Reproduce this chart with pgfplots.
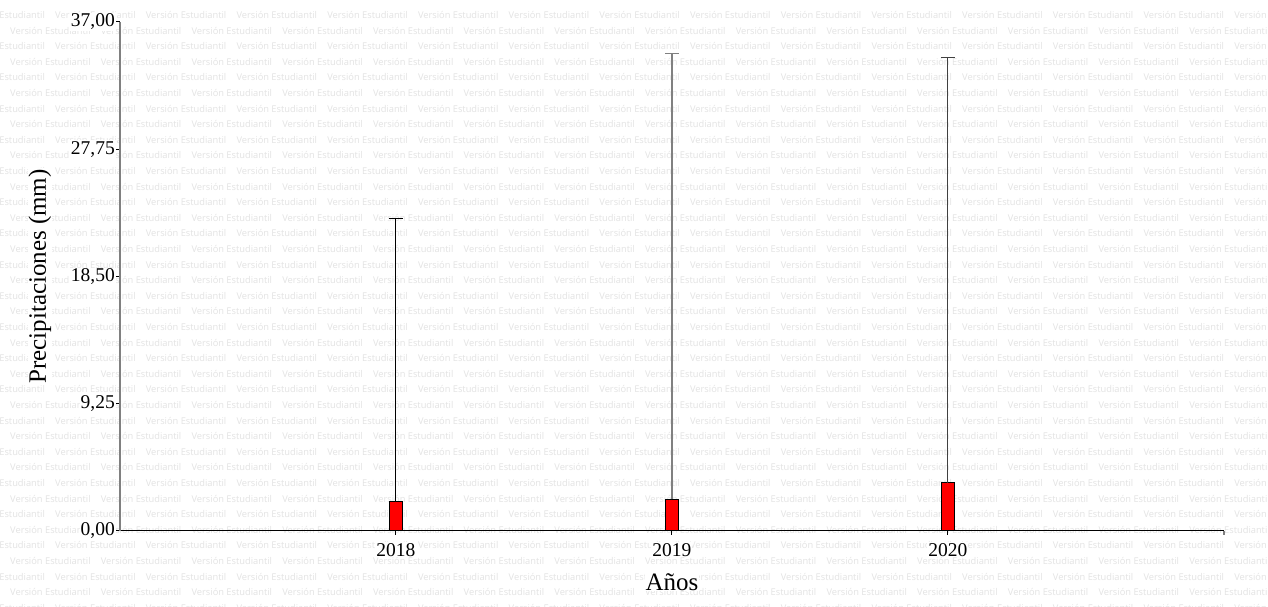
\documentclass[border=0pt]{standalone}
\usepackage{pgfplots}
\pgfplotsset{compat=1.18}
\usepackage{fontspec}
\setmainfont{Liberation Serif}
\newfontfamily\wmfont{Open Sans}
\begin{document}
\begin{tikzpicture}[x=1pt,y=1pt]
\clip (0,0) rectangle (1268,607);
\fill[white] (0,0) rectangle (1268,607);
% student-version watermark tiled over the page
\foreach \k in {0,...,38}{
  \pgfmathsetmacro{\yy}{607-15-15.6*\k}
  \pgfmathsetmacro{\xs}{isodd(\k) ? -80.7 : -35.7}
  \foreach \j in {0,...,14}{
    \node[anchor=west, inner sep=0pt, text=black!11,
          font=\wmfont\fontsize{9.3}{10}\selectfont]
      at ({\xs+90.7*\j}, \yy) {Versión Estudiantil};
  }
}
\begin{axis}[
  at={(120pt,76pt)}, anchor=south west,
  scale only axis, width=1104pt, height=509pt,
  xmin=0, xmax=4, ymin=0, ymax=37,
  axis x line=bottom, axis y line=left,
  x axis line style={-, black, line width=1pt},
  y axis line style={-, black!50, line width=1.2pt},
  tick align=outside,
  major tick length=4pt,
  every tick/.style={black, line width=1pt},
  xtick={1,2,3}, xticklabels={2018,2019,2020},
  extra x ticks={4}, extra x tick labels={},
  extra x tick style={major tick style={black!50, line width=1.2pt}},
  ytick={0,9.25,18.5,27.75,37},
  yticklabel style={/pgf/number format/.cd, fixed, fixed zerofill,
    precision=2, use comma, assume math mode=true},
  tick label style={font=\fontsize{19.5}{20}\selectfont, fill=white, inner sep=1pt},
  xticklabel style={yshift=-7pt},
  xlabel={Años}, ylabel={Precipitaciones (mm)},
  label style={font=\fontsize{25}{26}\selectfont, fill=white, inner sep=1pt},
  xlabel style={at={(axis description cs:0.5,-0.1)}, anchor=center},
  ylabel style={at={(axis description cs:-0.0725,0.5)}, anchor=center},
  ybar, bar width=12.7pt,
  error bars/y dir=plus, error bars/y explicit,
]
\addplot[bar shift=0pt, fill=red, draw=black, line width=1pt,
  error bars/.cd, error bar style={black, line width=1pt},
  error mark options={rotate=90, black, mark size=7pt, line width=1pt}]
  coordinates {(1,2.11) +- (0,20.62)};
\addplot[bar shift=0pt, fill=red, draw=black, line width=1pt,
  error bars/.cd, error bar style={black!50, line width=1.2pt},
  error mark options={rotate=90, black!50, mark size=7pt, line width=1.2pt}]
  coordinates {(2,2.30) +- (0,32.42)};
\addplot[bar shift=0pt, fill=red, draw=black, line width=1pt,
  error bars/.cd, error bar style={black!75, line width=1pt},
  error mark options={rotate=90, black!75, mark size=7pt, line width=1pt}]
  coordinates {(3,3.51) +- (0,30.92)};
\end{axis}
\end{tikzpicture}
\end{document}
